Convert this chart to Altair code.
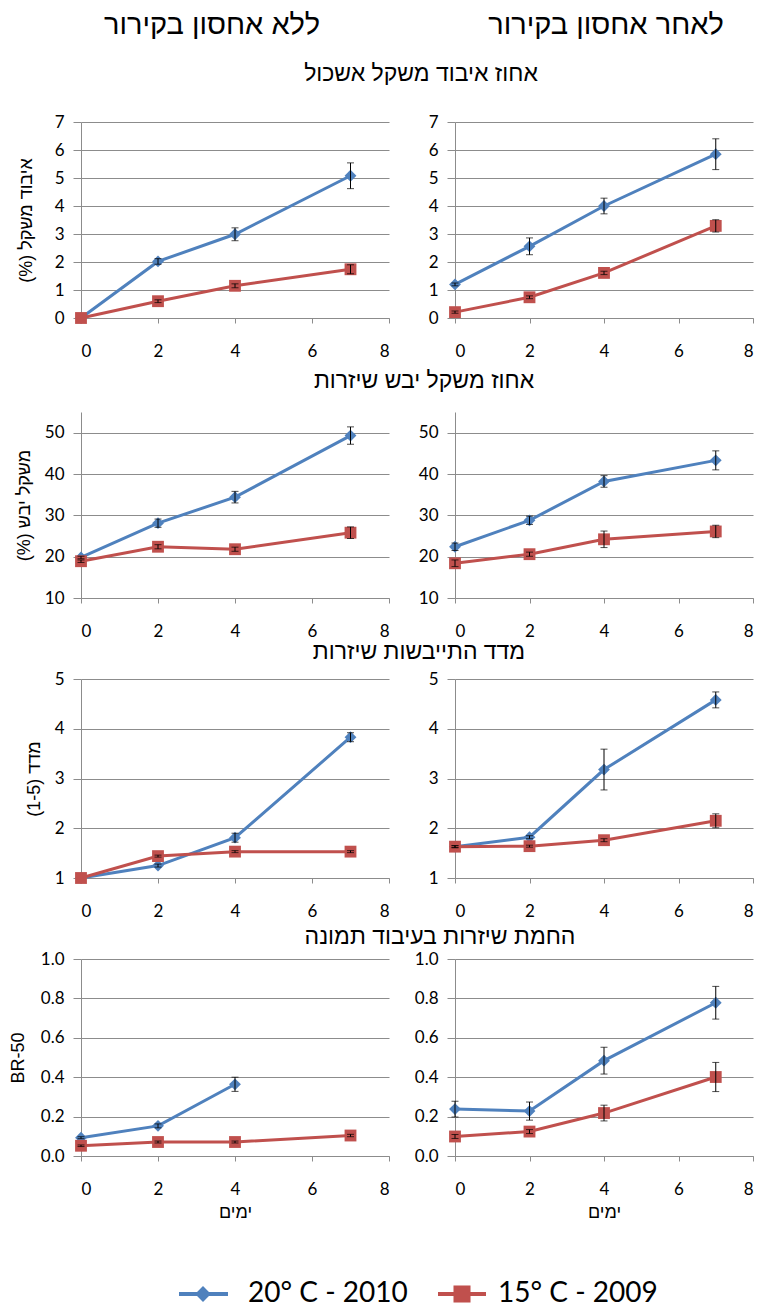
import altair as alt
import pandas as pd

# ---------------- data ----------------
days = [0, 2, 4, 7]
x_ticks = [0, 2, 4, 6, 8]
series_names = ["20° C - 2010", "15° C - 2009"]
col_headers = ["ללא אחסון בקירור", "לאחר אחסון בקירור"]
row_titles = ["אחוז איבוד משקל אשכול", "אחוז משקל יבש שיזרות",
              "מדד התייבשות שיזרות", "החמת שיזרות בעיבוד תמונה"]
y_titles = ["(%) איבוד משקל", "(%) משקל יבש", "(1-5) מדד", "BR-50"]
x_title = "ימים"

y_domains = [[0, 7], [10, 55], [1, 5], [0, 1]]
y_ticks = [[0, 1, 2, 3, 4, 5, 6, 7], [10, 20, 30, 40, 50], [1, 2, 3, 4, 5],
           [0, 0.2, 0.4, 0.6, 0.8, 1.0]]
y_formats = ["d", "d", "d", ".1f"]

# Row 1: bunch weight loss (%)  -- no storage / after storage
r1_no_20 = [0.0, 2.02, 2.99, 5.08]
r1_no_20_err = [0.0, 0.10, 0.23, 0.46]
r1_no_15 = [0.0, 0.60, 1.15, 1.74]
r1_no_15_err = [0.0, 0.05, 0.07, 0.16]
r1_st_20 = [1.20, 2.56, 4.00, 5.85]
r1_st_20_err = [0.05, 0.30, 0.28, 0.55]
r1_st_15 = [0.21, 0.74, 1.61, 3.29]
r1_st_15_err = [0.04, 0.05, 0.06, 0.22]

# Row 2: rachis dry weight (%)
r2_no_20 = [19.8, 28.1, 34.4, 49.3]
r2_no_20_err = [0.3, 1.0, 1.4, 2.1]
r2_no_15 = [18.9, 22.4, 21.8, 25.8]
r2_no_15_err = [0.3, 0.5, 0.5, 1.4]
r2_st_20 = [22.4, 28.8, 38.2, 43.3]
r2_st_20_err = [0.9, 1.0, 1.4, 2.3]
r2_st_15 = [18.4, 20.6, 24.2, 26.1]
r2_st_15_err = [0.8, 0.5, 2.0, 1.5]

# Row 3: rachis dehydration index (1-5)
r3_no_20 = [1.0, 1.25, 1.81, 3.83]
r3_no_20_err = [0.0, 0.03, 0.09, 0.09]
r3_no_15 = [1.0, 1.44, 1.53, 1.53]
r3_no_15_err = [0.0, 0.02, 0.02, 0.02]
r3_st_20 = [1.63, 1.82, 3.18, 4.58]
r3_st_20_err = [0.02, 0.03, 0.41, 0.16]
r3_st_15 = [1.63, 1.64, 1.76, 2.15]
r3_st_15_err = [0.02, 0.02, 0.03, 0.14]

# Row 4: rachis browning by image processing (BR-50)
r4_no_20 = [0.093, 0.153, 0.364, None]
r4_no_20_err = [0.005, 0.01, 0.036, None]
r4_no_15 = [0.052, 0.071, 0.071, 0.104]
r4_no_15_err = [0.004, 0.005, 0.005, 0.006]
r4_st_20 = [0.238, 0.228, 0.484, 0.778]
r4_st_20_err = [0.04, 0.046, 0.068, 0.083]
r4_st_15 = [0.099, 0.124, 0.218, 0.401]
r4_st_15_err = [0.01, 0.01, 0.04, 0.074]

rows_no = [(r1_no_20, r1_no_20_err, r1_no_15, r1_no_15_err),
           (r2_no_20, r2_no_20_err, r2_no_15, r2_no_15_err),
           (r3_no_20, r3_no_20_err, r3_no_15, r3_no_15_err),
           (r4_no_20, r4_no_20_err, r4_no_15, r4_no_15_err)]
rows_st = [(r1_st_20, r1_st_20_err, r1_st_15, r1_st_15_err),
           (r2_st_20, r2_st_20_err, r2_st_15, r2_st_15_err),
           (r3_st_20, r3_st_20_err, r3_st_15, r3_st_15_err),
           (r4_st_20, r4_st_20_err, r4_st_15, r4_st_15_err)]

# ---------------- style ----------------
COLORS = ["#4F81BD", "#C0504D"]
SHAPES = ["diamond", "square"]
GRID = "#8c8c8c"
NUM_FONT = "Lato"
HEB_FONT = "Liberation Sans"
LEFT_W, RIGHT_W = 308, 298
HEIGHTS = [196, 186, 199, 197]
YTITLE_X = [-55, -57, -47, -63]
ROW_TITLE_POS = [(340, -48), (343, -31), (338, -27), (359, -22)]
ROW_TITLE_SIZE = 23


def build_df(v20, e20, v15, e15):
    recs = []
    for name, vals, errs in [(series_names[0], v20, e20), (series_names[1], v15, e15)]:
        for d, v, e in zip(days, vals, errs):
            if v is None:
                continue
            recs.append(dict(series=name, day=d, val=v, lo=v - e, hi=v + e, err=e))
    return pd.DataFrame(recs)


def text_layer(txt, x, y, size, font, align="center", baseline="middle"):
    return alt.Chart(pd.DataFrame({"t": [txt]})).mark_text(
        font=font, fontSize=size, align=align, baseline=baseline, color="black"
    ).encode(text="t:N", x=alt.value(x), y=alt.value(y))


def panel(r, vals, width, left, bottom, extra):
    df = build_df(*vals)
    base = alt.Chart(df)
    height = HEIGHTS[r]
    xscale = alt.Scale(domain=[0, 8], nice=False, zero=False)
    yscale = alt.Scale(domain=y_domains[r], nice=False, zero=False)

    xaxis_kw = dict(values=x_ticks, grid=False, tickSize=5, tickColor=GRID,
                    domainColor=GRID, labelFont=NUM_FONT, labelFontSize=17,
                    labelColor="black", labelPadding=20)
    if bottom:
        xaxis_kw.update(title=x_title, titleFont=HEB_FONT, titleFontSize=18,
                        titleFontWeight="normal", titleColor="black", titlePadding=6)
    else:
        xaxis_kw.update(title=None)

    yaxis_kw = dict(values=y_ticks[r], format=y_formats[r], grid=True, gridColor=GRID,
                    domainColor=GRID, tickColor=GRID, tickSize=8, labelPadding=9,
                    labelFont=NUM_FONT, labelFontSize=17, labelColor="black")
    if left:
        yaxis_kw.update(title=y_titles[r], titleFont=HEB_FONT, titleFontSize=18,
                        titleFontWeight="normal", titleColor="black",
                        titleX=YTITLE_X[r], titleY=height / 2,
                        titleBaseline="middle", titleAngle=270)
    else:
        yaxis_kw.update(title=None)

    xaxis = alt.Axis(**xaxis_kw)
    yaxis = alt.Axis(**yaxis_kw)

    def X():
        return alt.X("day:Q", scale=xscale, axis=xaxis)

    def Y(f):
        return alt.Y(f + ":Q", scale=yscale, axis=yaxis)

    layers = []
    for name, col, shp in zip(series_names, COLORS, SHAPES):
        sub = base.transform_filter(alt.datum.series == name)
        layers.append(sub.mark_line(color=col, strokeWidth=3).encode(x=X(), y=Y("val")))
        layers.append(sub.mark_point(filled=True, shape=shp, color=col, size=140, opacity=1)
                      .encode(x=X(), y=Y("val")))
    err = base.transform_filter(alt.datum.err > 0)
    layers.append(err.mark_rule(color="black", strokeWidth=1).encode(
        x=X(), y=Y("lo"), y2="hi:Q"))
    for fld in ["lo", "hi"]:
        layers.append(err.mark_tick(color="black", orient="horizontal", size=7, thickness=1)
                      .encode(x=X(), y=Y(fld)))
    layers.extend(extra)
    return alt.layer(*layers).properties(width=width, height=height)


def legend_layers(y):
    out = []
    specs = [(98, 147, 122, 167), (357, 405, 381, 417)]
    sizes = [250, 290]
    for name, col, shp, (x0, x1, xm, xt), sz in zip(series_names, COLORS, SHAPES, specs, sizes):
        d = pd.DataFrame({"s": [name]})
        out.append(alt.Chart(d).mark_rule(color=col, strokeWidth=4).encode(
            x=alt.value(x0), x2=alt.value(x1), y=alt.value(y)))
        out.append(alt.Chart(d).mark_point(filled=True, shape=shp, color=col, size=sz, opacity=1)
                   .encode(x=alt.value(xm), y=alt.value(y)))
        out.append(text_layer(name, xt, y, 28, NUM_FONT, align="left"))
    return out


def spacer(h, w):
    return alt.Chart(pd.DataFrame({"a": [0]})).mark_point(opacity=0).encode(
        x=alt.value(0), y=alt.value(0)).properties(width=w, height=h)


cells = []
spacer_h = [14, 1, 1]
for r in range(4):
    extra = [text_layer(row_titles[r], ROW_TITLE_POS[r][0], ROW_TITLE_POS[r][1],
                        ROW_TITLE_SIZE, HEB_FONT)]
    if r == 0:
        extra.append(text_layer(col_headers[0], 131, -97, 29, HEB_FONT))
        extra.append(text_layer(col_headers[1], 525, -97, 29, HEB_FONT))
    if r == 3:
        extra.extend(legend_layers(335))
    cells.append(panel(r, rows_no[r], LEFT_W, True, r == 3, extra))
    cells.append(panel(r, rows_st[r], RIGHT_W, False, r == 3, []))
    if r < 3:
        cells.append(spacer(spacer_h[r], LEFT_W))
        cells.append(spacer(spacer_h[r], RIGHT_W))

chart = alt.concat(
    *cells, columns=2, spacing={"row": 40, "column": 66}, bounds="flush", align="each",
    padding={"top": 2, "left": 0, "right": 0, "bottom": 0}
).configure_view(stroke="transparent")

chart.save("out.html", embed_options={"renderer": "svg", "actions": False})
